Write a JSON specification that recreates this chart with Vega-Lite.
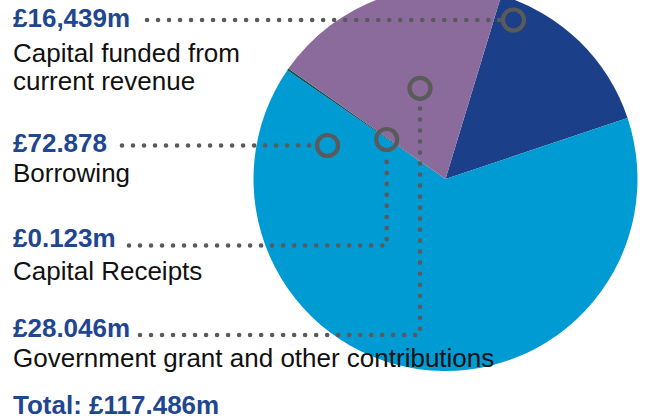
{
  "$schema": "https://vega.github.io/schema/vega-lite/v6.json",
  "width": 645,
  "height": 419,
  "autosize": {"type": "none"},
  "padding": 0,
  "background": "#ffffff",
  "config": {"view": {"stroke": null}, "font": "Liberation Sans"},
  "datasets": {
    "slices": [
      {"source": "Capital funded from current revenue", "amount": 16.439, "drawn_angle": 54.6, "order": 1},
      {"source": "Borrowing", "amount": 72.878, "drawn_angle": 233.0, "order": 2},
      {"source": "Capital Receipts", "amount": 0.123, "drawn_angle": 0.6, "order": 3},
      {"source": "Government grant and other contributions", "amount": 28.046, "drawn_angle": 71.8, "order": 4}
    ],
    "labels": [
      {"source": "Capital funded from current revenue", "value_text": "£16,439m", "label": ["Capital funded from", "current revenue"], "vx": 13, "vy": 27, "ly": 62},
      {"source": "Borrowing", "value_text": "£72.878", "label": ["Borrowing"], "vx": 13, "vy": 152, "ly": 182},
      {"source": "Capital Receipts", "value_text": "£0.123m", "label": ["Capital Receipts"], "vx": 13, "vy": 247, "ly": 280},
      {"source": "Government grant and other contributions", "value_text": "£28.046m", "label": ["Government grant and other contributions"], "vx": 13, "vy": 337, "ly": 367},
      {"source": "Total", "value_text": "Total: £117.486m", "vx": 13, "vy": 414}
    ],
    "leaders": [
      {"source": "Capital funded from current revenue", "step": 0, "x": 147, "y": 20},
      {"source": "Capital funded from current revenue", "step": 1, "x": 500, "y": 20},
      {"source": "Borrowing", "step": 0, "x": 122, "y": 145.5},
      {"source": "Borrowing", "step": 1, "x": 314, "y": 145.5},
      {"source": "Capital Receipts", "step": 0, "x": 129, "y": 245.5},
      {"source": "Capital Receipts", "step": 1, "x": 386.7, "y": 245.5},
      {"source": "Capital Receipts", "step": 2, "x": 386.7, "y": 153},
      {"source": "Government grant and other contributions", "step": 0, "x": 140, "y": 335},
      {"source": "Government grant and other contributions", "step": 1, "x": 420, "y": 335},
      {"source": "Government grant and other contributions", "step": 2, "x": 420, "y": 101.5}
    ],
    "markers": [
      {"source": "Capital funded from current revenue", "x": 513.5, "y": 20},
      {"source": "Borrowing", "x": 327.5, "y": 145.5},
      {"source": "Capital Receipts", "x": 386.7, "y": 139.5},
      {"source": "Government grant and other contributions", "x": 420, "y": 88.3}
    ]
  },
  "layer": [
    {
      "data": {"name": "slices"},
      "mark": {"type": "arc", "outerRadius": 192, "stroke": null},
      "encoding": {
        "x": {"datum": 445.5, "type": "quantitative", "scale": {"domain": [0, 645], "nice": false, "zero": false}, "axis": null},
        "y": {"datum": 179, "type": "quantitative", "scale": {"domain": [0, 419], "nice": false, "zero": false, "reverse": true}, "axis": null},
        "theta": {"field": "drawn_angle", "type": "quantitative", "stack": true, "scale": {"range": [0.295, 6.578]}},
        "order": {"field": "order", "type": "quantitative"},
        "color": {
          "field": "source",
          "type": "nominal",
          "legend": null,
          "scale": {
            "domain": ["Capital funded from current revenue", "Borrowing", "Capital Receipts", "Government grant and other contributions"],
            "range": ["#1c3f8a", "#009bd3", "#0b5250", "#8a6b9c"]
          }
        }
      }
    },
    {
      "data": {"name": "leaders"},
      "mark": {"type": "line", "stroke": "#5a5a5a", "strokeWidth": 4.6, "strokeCap": "round", "strokeDash": [0.01, 11]},
      "encoding": {
        "x": {"field": "x", "type": "quantitative"},
        "y": {"field": "y", "type": "quantitative"},
        "detail": {"field": "source"},
        "order": {"field": "step", "type": "quantitative"}
      }
    },
    {
      "data": {"name": "markers"},
      "mark": {"type": "point", "shape": "circle", "filled": false, "stroke": "#5a5a5a", "strokeWidth": 4.2, "size": 441, "opacity": 1},
      "encoding": {
        "x": {"field": "x", "type": "quantitative"},
        "y": {"field": "y", "type": "quantitative"}
      }
    },
    {
      "data": {"name": "labels"},
      "mark": {"type": "text", "align": "left", "baseline": "alphabetic", "fontSize": 26, "fontWeight": "bold", "color": "#1f4690", "font": "Liberation Sans"},
      "encoding": {
        "x": {"field": "vx", "type": "quantitative"},
        "y": {"field": "vy", "type": "quantitative"},
        "text": {"field": "value_text"}
      }
    },
    {
      "data": {"name": "labels"},
      "transform": [{"filter": "datum.label"}],
      "mark": {"type": "text", "align": "left", "baseline": "alphabetic", "fontSize": 26, "lineHeight": 28, "color": "#111111", "font": "Liberation Sans"},
      "encoding": {
        "x": {"field": "vx", "type": "quantitative"},
        "y": {"field": "ly", "type": "quantitative"},
        "text": {"field": "label"}
      }
    }
  ]
}
